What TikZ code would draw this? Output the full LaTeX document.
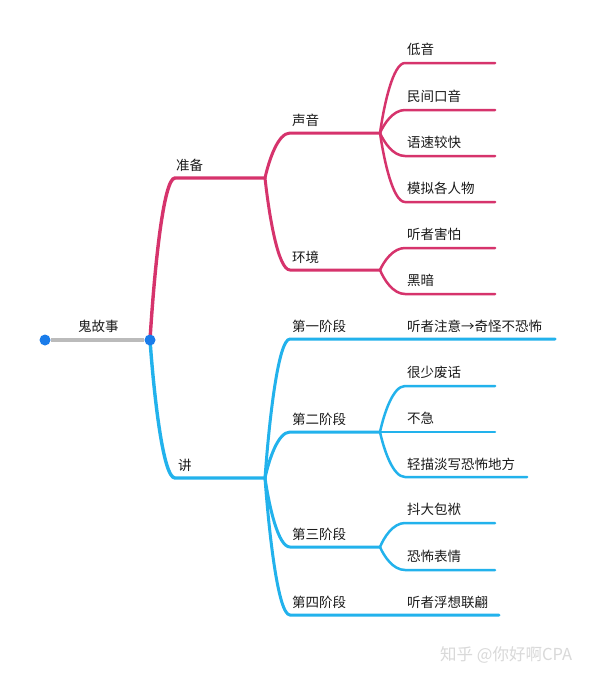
\documentclass[tikz,border=0pt]{standalone}
\usepackage{fontspec}
\setmainfont{Noto Sans CJK SC}
\usetikzlibrary{calc}
\definecolor{pinkc}{HTML}{D6336C}
\definecolor{bluec}{HTML}{22B2EC}
\definecolor{dotc}{HTML}{1A7CEA}
\definecolor{grayc}{HTML}{BBBBBB}
\definecolor{txt}{HTML}{1A1A1A}
\tikzset{
  lbl/.style={anchor=west,inner sep=0pt,font=\fontsize{13.5}{14}\selectfont,text=txt},
  br/.style={to path={.. controls ($(\tikztostart)!0.4!(\tikztostart |- \tikztotarget)+(4pt,0)$) and ($(\tikztotarget)+(-12pt,0)$) .. (\tikztotarget)}},
  lv1/.style={line width=3.4pt,line cap=round},
  lv2/.style={line width=3pt,line cap=round},
  lv3/.style={line width=2.5pt,line cap=round},
  dot/.style={circle,fill=dotc,inner sep=0pt,minimum size=11pt},
}
\begin{document}
\begin{tikzpicture}[x=1pt,y=-1pt]
\useasboundingbox[fill=white] (0,0) rectangle (600,680);
% junction coordinates
\coordinate (J0) at (150,340);
\coordinate (A) at (175,178); \coordinate (J1) at (265,178);
\coordinate (B) at (175,478); \coordinate (J2) at (265,478);
\coordinate (A1) at (290,133); \coordinate (J11) at (380,133);
\coordinate (A2) at (290,270); \coordinate (J12) at (380,270);
\foreach \n/\y in {a/63,b/110,c/156,d/202}{\coordinate (L\n) at (405,\y); \coordinate (E\n) at (495,\y);}
\foreach \n/\y in {e/248,f/294}{\coordinate (L\n) at (405,\y); \coordinate (E\n) at (495,\y);}
\coordinate (B1) at (290,339); \coordinate (E1) at (555,339);
\coordinate (B2) at (290,432); \coordinate (J22) at (380,432);
\coordinate (Lg) at (405,386); \coordinate (Eg) at (495,386);
\coordinate (Eh) at (495,432);
\coordinate (Li) at (405,477); \coordinate (Ei) at (527,477);
\coordinate (B3) at (290,547); \coordinate (J23) at (380,547);
\coordinate (Lj) at (405,523); \coordinate (Ej) at (495,523);
\coordinate (Lk) at (405,570); \coordinate (Ek) at (495,570);
\coordinate (B4) at (290,615); \coordinate (E4) at (499,615);

% pink branch
\draw[pinkc,lv1] (J0) to[br] (A) -- (J1);
\draw[pinkc,lv2] (J1) to[br] (A1) -- (J11);
\draw[pinkc,lv2] (J1) to[br] (A2) -- (J12);
\foreach \n in {a,b,c,d}{\draw[pinkc,lv3] (J11) to[br] (L\n) -- (E\n);}
\foreach \n in {e,f}{\draw[pinkc,lv3] (J12) to[br] (L\n) -- (E\n);}
% blue branch
\draw[bluec,lv1] (J0) to[br] (B) -- (J2);
\draw[bluec,lv2] (J2) to[br] (B1) -- (E1);
\draw[bluec,lv2] (J2) to[br] (B2) -- (J22);
\draw[bluec,lv2] (J2) to[br] (B3) -- (J23);
\draw[bluec,lv2] (J2) to[br] (B4) -- (E4);
\draw[bluec,lv3] (J22) to[br] (Lg) -- (Eg);
\draw[bluec,lv3] (J22) -- (Eh);
\draw[bluec,lv3] (J22) to[br] (Li) -- (Ei);
\draw[bluec,lv3] (J23) to[br] (Lj) -- (Ej);
\draw[bluec,lv3] (J23) to[br] (Lk) -- (Ek);

% root
\node[dot] (r0) at (45,340) {};
\node[dot] (r1) at (J0) {};
\draw[grayc,line width=4pt] (r0) -- (r1);

% labels
\node[lbl] (t0) at (78,326) {鬼故事};
\node[lbl] (tA) at (176,165) {准备};
\node[lbl] (tB) at (178,465) {讲};
\node[lbl] (tA1) at (292,120) {声音};
\node[lbl] (tA2) at (292,257) {环境};
\node[lbl] (ta) at (407,49) {低音};
\node[lbl] (tb) at (407,96) {民间口音};
\node[lbl] (tc) at (407,142) {语速较快};
\node[lbl] (td) at (407,188) {模拟各人物};
\node[lbl] (te) at (407,234) {听者害怕};
\node[lbl] (tf) at (407,280) {黑暗};
\node[lbl] (tB1) at (292,326) {第一阶段};
\node[lbl] (t1) at (407,326) {听者注意→奇怪不恐怖};
\node[lbl] (tB2) at (292,419) {第二阶段};
\node[lbl] (tg) at (407,372) {很少废话};
\node[lbl] (th) at (407,418) {不急};
\node[lbl] (ti) at (407,464) {轻描淡写恐怖地方};
\node[lbl] (tB3) at (292,534) {第三阶段};
\node[lbl] (tj) at (407,509) {抖大包袱};
\node[lbl] (tk) at (407,556) {恐怖表情};
\node[lbl] (tB4) at (292,602) {第四阶段};
\node[lbl] (t4) at (407,602) {听者浮想联翩};
\node[anchor=west,inner sep=0pt,font=\fontsize{16.5}{17}\selectfont,text=black!15] (wm) at (440,655) {知乎 @你好啊CPA};
\end{tikzpicture}
\end{document}
